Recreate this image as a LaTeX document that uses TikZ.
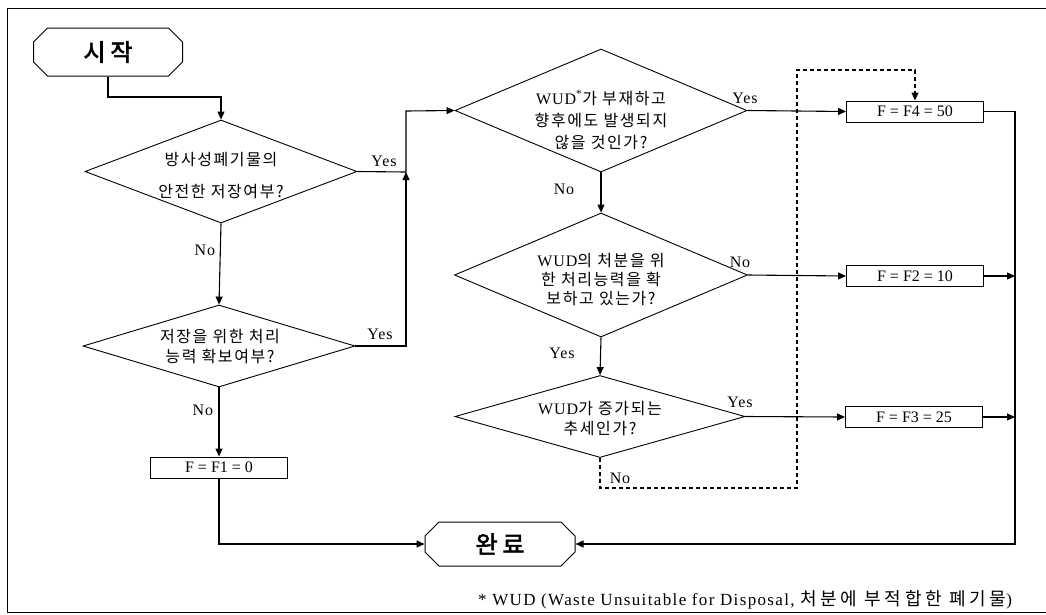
\documentclass[tikz,border=0pt]{standalone}
\usepackage{fontspec}
\setmainfont{Liberation Serif}
\newfontfamily\lab{Liberation Serif}[LetterSpace=6]
\newfontfamily\kr{Noto Sans CJK KR}[LetterSpace=10]
\newfontfamily\krbig{Noto Sans CJK KR}[FakeBold=2.5,LetterSpace=20]
\newfontfamily\krfoot{Noto Sans CJK KR}[LetterSpace=20]
\newfontfamily\latfoot{Liberation Serif}[LetterSpace=8]
\usetikzlibrary{arrows.meta,shapes.geometric,shapes.misc,calc}
\begin{document}
\begin{tikzpicture}[x=1pt,y=-1pt,
  arr/.style={line width=1.1pt,-{Triangle[length=8pt,width=7pt]}},
  dashln/.style={line width=1.1pt,dash pattern=on 4pt off 3pt},
  dia/.style={draw,diamond,line width=0.9pt,inner sep=0pt},
  dtext/.style={align=center,inner sep=0pt},
  term/.style={draw,chamfered rectangle,chamfered rectangle xsep=7pt,chamfered rectangle ysep=7pt,line width=1pt,inner sep=0pt,font=\krbig\fontsize{24}{28}\selectfont},
  fbox/.style={draw,rectangle,line width=0.9pt,minimum width=137pt,minimum height=21pt,inner sep=0pt,font=\fontsize{16}{18}\selectfont},
  yn/.style={inner sep=0pt,font=\lab\fontsize{16}{18}\selectfont}]
\useasboundingbox (0,0) rectangle (1046,614);
% frame
\draw[line width=1pt] (1046,8) -- (7,8) -- (7,612) -- (1046,612);

% terminals
\node[term,minimum width=149pt,minimum height=48pt] (start) at (108,52) {시작};
\node[term,minimum width=150pt,minimum height=44pt] (done) at (500,544) {완료};

% diamonds
\node[dia,minimum width=272pt,minimum height=103pt] (d1) at (221,171.5) {};
\node[dtext,font=\kr\fontsize{16}{32}\selectfont] (d1t) at (221,176) {방사성폐기물의\\안전한 저장여부?};
\node[dia,minimum width=272pt,minimum height=82pt] (d2) at (219,346) {};
\node[dtext,font=\kr\fontsize{16}{20}\selectfont] (d2t) at (220,346.5) {저장을 위한 처리\\능력 확보여부?};
\node[dia,minimum width=292pt,minimum height=123pt] (d3) at (601,110.5) {};
\node[dtext,font=\kr\fontsize{16}{22}\selectfont] (d3t) at (601,120) {{\lab WUD}\textsuperscript{\rmfamily *}가 부재하고\\향후에도 발생되지\\않을 것인가?};
\node[dia,minimum width=293pt,minimum height=124pt] (d4) at (601,275) {};
\node[dtext,font=\kr\fontsize{16}{19}\selectfont] (d4t) at (601,279) {{\lab WUD}의 처분을 위\\한 처리능력을 확\\보하고 있는가?};
\node[dia,minimum width=290pt,minimum height=82pt] (d5) at (600,416.5) {};
\node[dtext,font=\kr\fontsize{16}{20}\selectfont] (d5t) at (600,419) {{\lab WUD}가 증가되는\\추세인가?};

% result boxes
\node[fbox] (f1) at (219,467.5) {F = F1 = 0};
\node[fbox] (f4) at (915,111.5) {F = F4 = 50};
\node[fbox] (f2) at (915,276) {F = F2 = 10};
\node[fbox] (f3) at (914,417) {F = F3 = 25};

% helper coordinates
\coordinate (c1) at (108,97);
\coordinate (j1) at (406,172);
\coordinate (j2) at (406,111);
\coordinate (b1) at (1015,111.5);
\coordinate (b2) at (1015,544);
\coordinate (k1) at (600,488);
\coordinate (k2) at (797,488);
\coordinate (k3) at (797,70);

% connectors
\draw[arr] (start.south) -- (c1) -| (d1.north);
\draw[arr] (d1.south) -- (d2.north);
\draw[arr] (d2.south) -- (f1.north);
\draw[arr] (f1.south) |- (done.west);
\draw[arr] (d1.east) -- (j1) -- (j2) -- (d3.west);
\draw[arr] (d2.east) -| (j1);
\draw[arr] (d3.east) -- (f4.west);
\draw[arr] (d3.south) -- (d4.north);
\draw[arr] (d4.east) -- (f2.west);
\draw[arr] (d4.south) -- (d5.north);
\draw[arr] (d5.east) -- (f3.west);
\draw[dashln,-{Triangle[length=8pt,width=7pt]}] (d5.south) -- (k1) -- (k2) -- (k3) -| (f4.north);
\draw[arr] (f4.east) -- (b1) -- (b2) -- (done.east);
\draw[arr] (f2.east) -- (f2.east -| b1);
\draw[arr] (f3.east) -- (f3.east -| b1);

% labels
\node[yn] (y1) at (384,161) {Yes};
\node[yn] (n1) at (205,250) {No};
\node[yn] (y2) at (380,334) {Yes};
\node[yn] (n2) at (203,410) {No};
\node[yn] (y3) at (745,98) {Yes};
\node[yn] (n3) at (564,189) {No};
\node[yn] (n4) at (740,262) {No};
\node[yn] (y4) at (562,353) {Yes};
\node[yn] (y5) at (740,402) {Yes};
\node[yn] (n5) at (620,478) {No};

% footnote
\node[anchor=west,inner sep=0pt,font=\latfoot\fontsize{17}{19}\selectfont] (fn) at (478,600) {* WUD (Waste Unsuitable for Disposal, {\krfoot\fontsize{18}{20}\selectfont 처분에 부적합한 폐기물})};
\end{tikzpicture}
\end{document}
